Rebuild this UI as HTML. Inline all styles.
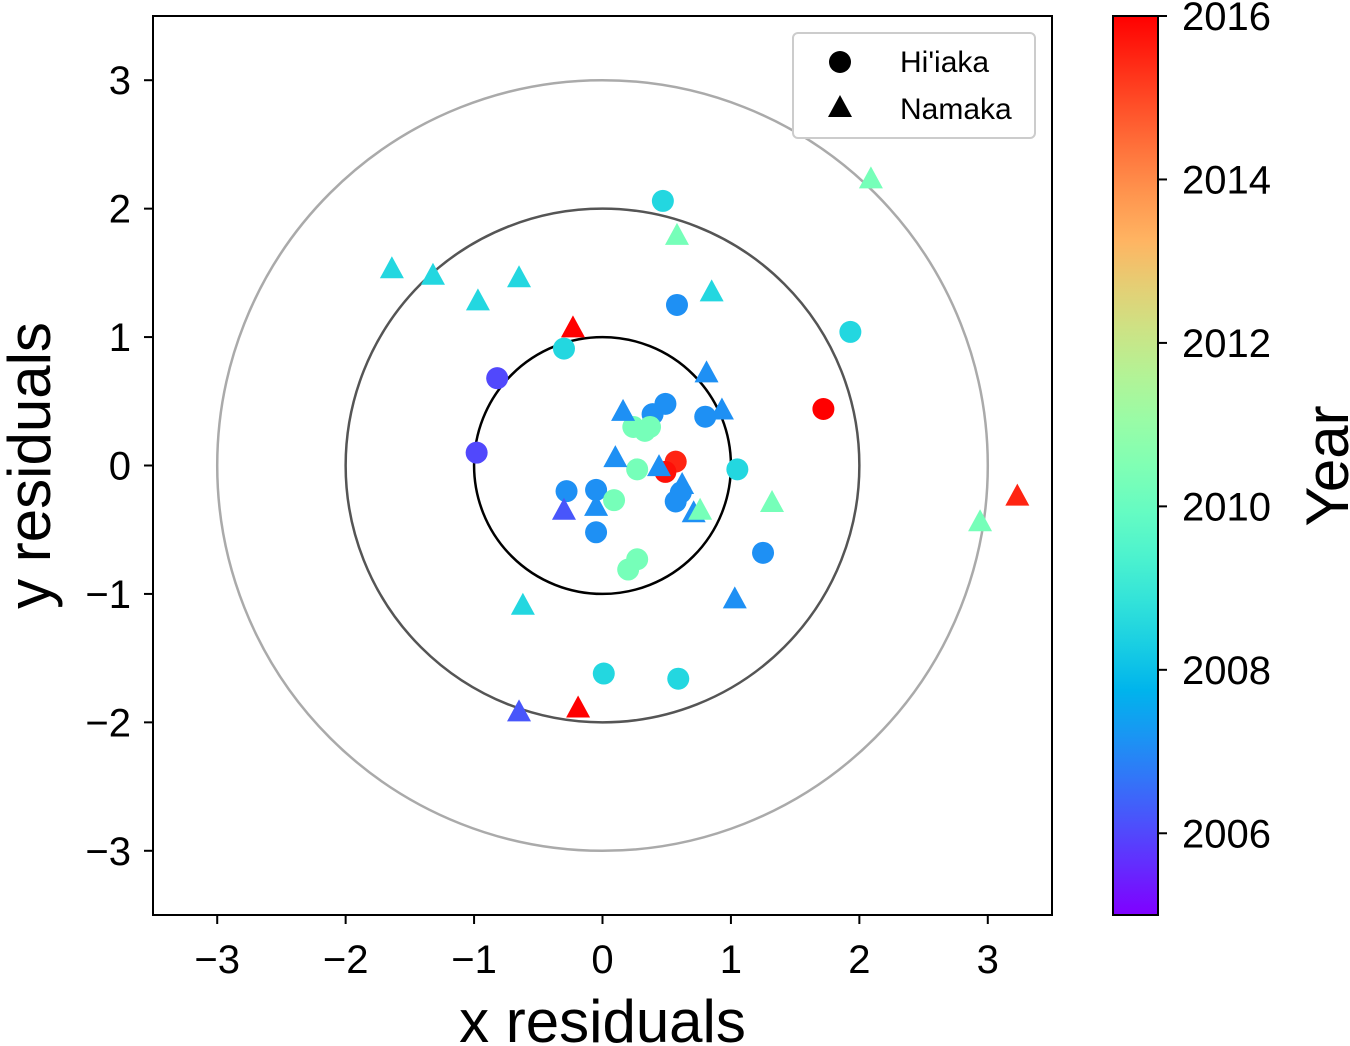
<!DOCTYPE html>
<html><head><meta charset="utf-8"><style>
body{margin:0;background:#fff;}
svg{display:block;font-family:"Liberation Sans",sans-serif;}
</style></head><body>
<svg id="c" width="1350" height="1046"></svg>
<script>
// Hi'iaka (circles)
const circX=[0.47,0.58,1.93,-0.30,-0.82,1.72,-0.98,0.49,0.39,0.80,0.24,0.37,0.33,0.57,0.49,0.27,1.05,-0.28,-0.05,0.09,0.57,0.61,-0.05,0.27,0.20,1.25,0.01,0.59];
const circY=[2.06,1.25,1.04,0.91,0.68,0.44,0.10,0.48,0.40,0.38,0.30,0.30,0.27,0.03,-0.05,-0.03,-0.03,-0.20,-0.19,-0.27,-0.28,-0.21,-0.52,-0.73,-0.81,-0.68,-1.62,-1.66];
const circYear=[2008.5,2007.1,2008.5,2008.5,2006,2016,2006,2007.1,2007.1,2007.1,2010.3,2010.3,2010.3,2015.5,2015.8,2010.3,2008.5,2007.1,2007.1,2010.3,2007.1,2007.1,2007.1,2010.3,2010.3,2007.1,2008.5,2008.5];
// Namaka (triangles)
const triX=[2.09,0.58,0.85,-1.64,-1.32,-0.65,-0.97,-0.23,0.81,0.93,0.16,0.10,0.44,0.62,-0.30,-0.05,0.71,0.76,1.32,2.94,3.23,1.03,-0.62,-0.65,-0.19];
const triY=[2.22,1.78,1.34,1.52,1.47,1.45,1.27,1.06,0.71,0.42,0.41,0.05,-0.02,-0.16,-0.36,-0.33,-0.38,-0.36,-0.30,-0.45,-0.25,-1.05,-1.10,-1.93,-1.90];
const triYear=[2010.3,2010.3,2008.5,2008.5,2008.5,2008.5,2008.5,2016,2007.1,2007.1,2007.1,2007.1,2007.1,2007.1,2006.2,2007.1,2007.1,2010.3,2010.3,2010.3,2015.5,2007.1,2008.5,2006.2,2016];
const xTicks=[-3,-2,-1,0,1,2,3];
const yTicks=[-3,-2,-1,0,1,2,3];
const cbTicks=[2006,2008,2010,2012,2014,2016];
const rings=[1,2,3];

const NS="http://www.w3.org/2000/svg";
const svg=document.getElementById('c');
const L=153,R=1052,T=16,B=915;
const sx=v=>L+(v+3.5)*(R-L)/7;
const sy=v=>B-(v+3.5)*(B-T)/7;
const Y0=2005,Y1=2016,CT=16,CB=915;
const cy=v=>CB-(v-Y0)/(Y1-Y0)*(CB-CT);
function rainbow(t){
  t=Math.max(0,Math.min(1,t));
  const r=Math.min(1,Math.abs(2*t-0.5)),g=Math.sin(Math.PI*t),b=Math.cos(Math.PI*t/2);
  return `rgb(${Math.round(r*255)},${Math.round(g*255)},${Math.round(b*255)})`;
}
const col=y=>rainbow((y-Y0)/(Y1-Y0));
function el(tag,attrs,parent){const e=document.createElementNS(NS,tag);for(const k in attrs)e.setAttribute(k,attrs[k]);(parent||svg).appendChild(e);return e;}
function txt(s,attrs){const e=el('text',attrs);e.textContent=s;return e;}

const ringCols=['#000','#555','#aaa'];
rings.forEach((r,i)=>{
  const c=el('circle',{cx:sx(0),cy:sy(0),r:sx(r)-sx(0),fill:'none',stroke:ringCols[i],'stroke-width':2.5});
  
  
});
circX.forEach((x,i)=>{
  const c=el('circle',{cx:sx(x),cy:sy(circY[i]),r:11,fill:col(circYear[i])});
  
  
});
triX.forEach((x,i)=>{
  const px=sx(x),py=sy(triY[i]);
  const p=el('polygon',{points:`${px},${py-14} ${px-12},${py+8} ${px+12},${py+8}`,fill:col(triYear[i])});
  
  
});
const fr=el('rect',{x:L,y:T,width:R-L,height:B-T,fill:'none',stroke:'#000','stroke-width':2});


xTicks.forEach(v=>{
  el('line',{x1:sx(v),x2:sx(v),y1:B,y2:B+9,stroke:'#000','stroke-width':2});
  const t=txt((v<0?'\u2212':'')+Math.abs(v),{x:sx(v),y:B+58,'font-size':40,'text-anchor':'middle'});
  
  
});
yTicks.forEach(v=>{
  el('line',{x1:L-9,x2:L,y1:sy(v),y2:sy(v),stroke:'#000','stroke-width':2});
  const t=txt((v<0?'\u2212':'')+Math.abs(v),{x:L-22,y:sy(v)+14,'font-size':40,'text-anchor':'end'});
  
  
});
const xt=txt('x residuals',{x:(L+R)/2,y:1042,'font-size':60,'text-anchor':'middle'});


const yt=txt('y residuals',{x:0,y:0,'font-size':60,'text-anchor':'middle',transform:`translate(50,${(T+B)/2}) rotate(-90)`});


const lg=el('g',{});


el('rect',{x:793,y:33,width:242,height:105,rx:5,fill:'#fff',stroke:'#ccc','stroke-width':2},lg);
el('circle',{cx:840,cy:62,r:11,fill:'#000'},lg);
el('polygon',{points:'840,95 828,117 852,117',fill:'#000'},lg);
const l1=el('text',{x:900,y:72,'font-size':30},lg);l1.textContent="Hi'iaka";
const l2=el('text',{x:900,y:119,'font-size':30},lg);l2.textContent="Namaka";
const defs=el('defs',{});
const gr=el('linearGradient',{id:'cbg',x1:0,y1:1,x2:0,y2:0},defs);
for(let i=0;i<=20;i++)el('stop',{offset:i/20,'stop-color':rainbow(i/20)},gr);
const cb=el('rect',{x:1113,y:CT,width:45,height:CB-CT,fill:'url(#cbg)',stroke:'#000','stroke-width':2});


cbTicks.forEach(v=>{
  el('line',{x1:1158,x2:1167,y1:cy(v),y2:cy(v),stroke:'#000','stroke-width':2});
  const t=txt(String(v),{x:1182,y:cy(v)+14,'font-size':40});
  
  
});
const ct=txt('Year',{x:0,y:0,'font-size':60,'text-anchor':'middle',transform:`translate(1348,466) rotate(-90)`});


</script>
</body></html>
